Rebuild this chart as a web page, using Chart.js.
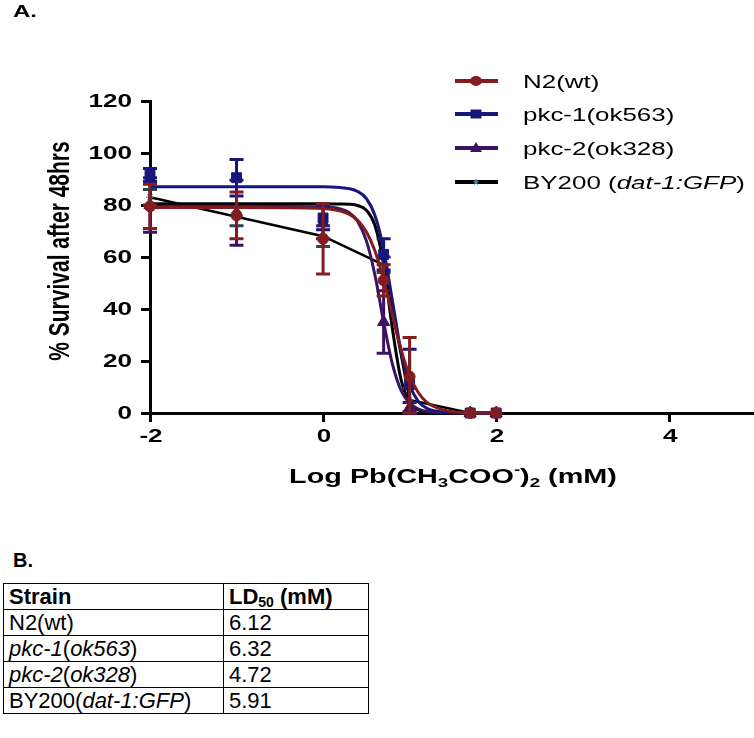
<!DOCTYPE html>
<html>
<head>
<meta charset="utf-8">
<script src="https://cdn.jsdelivr.net/npm/chart.js@4.4.1/dist/chart.umd.min.js"></script>
<style>
html,body{margin:0;padding:0;background:#fff;width:754px;height:738px;overflow:hidden;position:relative;font-family:"Liberation Sans",Arial,sans-serif;color:#000;}
#c{position:absolute;left:0;top:0;width:754px;height:500px;}
#lblB{position:absolute;left:13px;top:550px;font-weight:bold;font-size:20px;line-height:20px;}
#tbl{position:absolute;left:3px;top:583px;border-collapse:collapse;font-size:22px;}
#tbl td{border:1px solid #000;padding:0 0 0 5px;height:25px;line-height:22px;vertical-align:middle;white-space:nowrap;font-size:22px;}
#tbl th{border:1px solid #000;padding:0 0 0 5px;height:25px;line-height:22px;text-align:left;font-weight:bold;font-size:22px;}
#tbl sub{font-size:14px;vertical-align:-3px;line-height:0;}
</style>
</head>
<body>
<canvas id="c" width="754" height="500"></canvas>
<div id="lblB">B.</div>
<table id="tbl"></table>
<script>
// ---------- data ----------
const logDose   = [-2, -1, 0, 0.7, 1, 1.7, 2];
const n2Mean    = [79.5, 76, 67, 51, 14, 0, 0];
const n2Err     = [8.5, 9, 13.5, 6, 15, 0, 0];
const pkc1Mean  = [91.5, 90.5, 75, 61, 11, 0, 0];
const pkc1Err   = [2.5, 7, 4.5, 6, 13.5, 0, 0];
const pkc2Mean  = [80, 77, 73, 35, 2, 0, 0];
const pkc2Err   = [10.5, 12.5, 6, 12, 2, 0, 0];
const by200Mean = [83, 75.5, 68, 57, 5, 0, 0];
const by200Err  = [3, 3.5, 4, 3, 4.5, 0, 0];

// fitted curves
const fitX     = [-2, -1, 0, 0.2, 0.3, 0.4, 0.5, 0.6, 0.7, 0.8, 0.9, 1.0, 1.1, 1.2, 1.4, 1.7, 2.0];
const n2Fit    = [79, 79, 78.7, 77.7, 76.5, 74.1, 69.7, 62.3, 51.2, 37.7, 24.6, 14.4, 7.9, 4.1, 1.1, 0.1, 0];
const pkc1Fit  = [87, 87, 87, 86.7, 86.3, 85.2, 82.5, 76, 63, 43.5, 24, 11, 4.5, 1.8, 0.3, 0, 0];
const pkc2Fit  = [79.5, 79.5, 79.3, 78.5, 77.1, 73.7, 66.3, 53, 35, 19, 8.8, 3.8, 1.6, 0.6, 0.1, 0, 0];
const by200Fit = [80.5, 80.5, 80.5, 80.4, 80.3, 79.8, 78, 72.1, 57, 32.7, 13, 4.1, 1.2, 0.35, 0, 0, 0];

const yTicks = [0, 20, 40, 60, 80, 100, 120];
const xTicks = [-2, 0, 2, 4];

const seriesNames = ['N2(wt)', 'pkc-1(ok563)', 'pkc-2(ok328)', 'BY200 (dat-1:GFP)'];
const tableStrains = ['N2(wt)', '<i>pkc-1</i>(<i>ok563</i>)', '<i>pkc-2</i>(<i>ok328</i>)', 'BY200(<i>dat-1:GFP</i>)'];
const tableLD50 = ['6.12', '6.32', '4.72', '5.91'];

const yTitle = '% Survival after 48hrs';
const panelA = 'A.';

// ---------- table ----------
(function(){
  const t = document.getElementById('tbl');
  let h = '<tr><th style="width:214px">Strain</th><th style="width:139px">LD<sub>50</sub> (mM)</th></tr>';
  tableStrains.forEach((s,i)=>{ h += '<tr><td>'+s+'</td><td>'+tableLD50[i]+'</td></tr>'; });
  t.innerHTML = h;
})();

// ---------- colors ----------
const RED = '#821c1e', NAVY = '#17167c', PURPLE = '#3a1462', BLACK = '#000000', STEEL = '#4f7f9c', SLATE = '#2c4652';
const FONT = '"Liberation Sans", Arial, sans-serif';
const S = 1.45;
const AREA_LEFT = 150, AREA_RIGHT = 754, AREA_BOTTOM = 413;

const pts = (xs, ys) => xs.map((x,i)=>({x:x, y:ys[i]}));

function drawStretched(ctx, text, x, y, font, s, align, baseline){
  ctx.save(); ctx.font = font; ctx.textAlign = align; ctx.textBaseline = baseline;
  ctx.translate(x, y); ctx.scale(s, 1); ctx.fillText(text, 0, 0); ctx.restore();
}
function drawRuns(ctx, runs, x, y, s, align){
  ctx.save(); ctx.textBaseline = 'alphabetic'; ctx.textAlign = 'left';
  let w = 0;
  runs.forEach(r=>{ ctx.font = r.font; r.w = ctx.measureText(r.t).width; w += r.w; });
  ctx.translate(x, y); ctx.scale(s, 1);
  let cx = align === 'center' ? -w/2 : 0;
  runs.forEach(r=>{ ctx.font = r.font; ctx.fillText(r.t, cx, r.dy || 0); cx += r.w; });
  ctx.restore();
}

// force the plot area to span the full width on the right
const fixArea = {
  id: 'fixArea',
  afterLayout(chart){
    const xs = chart.scales.x;
    if (Math.abs(xs.right - AREA_RIGHT) > 0.5) {
      chart.chartArea.right = AREA_RIGHT;
      chart.chartArea.width = AREA_RIGHT - chart.chartArea.left;
      xs.right = AREA_RIGHT;
      xs.width = AREA_RIGHT - xs.left;
      xs.configure();
    }
  }
};

const errorBars = {
  id: 'errorBars',
  beforeDatasetDraw(chart, args){
    const ds = chart.data.datasets[args.index];
    if (!ds.errMean) return;
    const ctx = chart.ctx, xs = chart.scales.x, ys = chart.scales.y;
    ctx.save();
    ctx.strokeStyle = ds.errColor; ctx.lineWidth = 3;
    ds.errMean.forEach((m,i)=>{
      const e = ds.errVal[i];
      if (!e) return;
      const px = xs.getPixelForValue(logDose[i]);
      const top = ys.getPixelForValue(m + e);
      const bot = ys.getPixelForValue(Math.max(0, m - e));
      ctx.beginPath();
      ctx.moveTo(px, top); ctx.lineTo(px, bot);
      ctx.moveTo(px-7, top); ctx.lineTo(px+7, top);
      ctx.moveTo(px-7, bot); ctx.lineTo(px+7, bot);
      ctx.stroke();
    });
    ctx.restore();
  }
};

function drawMarker(ctx, style, x, y, color){
  ctx.save(); ctx.fillStyle = color; ctx.strokeStyle = color;
  if (style === 'circle'){ ctx.beginPath(); ctx.ellipse(x, y, 6, 5, 0, 0, Math.PI*2); ctx.fill(); }
  else if (style === 'rect'){ ctx.fillRect(x-5.5, y-4.5, 11, 9); }
  else if (style === 'triangle'){ ctx.beginPath(); ctx.moveTo(x, y-6); ctx.lineTo(x+6, y+4); ctx.lineTo(x-6, y+4); ctx.closePath(); ctx.fill(); }
  else if (style === 'star'){
    ctx.beginPath();
    for (let k=0;k<10;k++){ const r = k%2?1.5:3.6; const a = -Math.PI/2 + k*Math.PI/5; ctx.lineTo(x+r*Math.cos(a), y+r*Math.sin(a)); }
    ctx.closePath(); ctx.fill();
  }
  ctx.restore();
}

const texts = {
  id: 'texts',
  afterDraw(chart){
    const ctx = chart.ctx, xs = chart.scales.x, ys = chart.scales.y;
    ctx.save();
    ctx.fillStyle = '#000';
    drawStretched(ctx, panelA, 13, 17, 'bold 16px '+FONT, 1.5, 'left', 'alphabetic');
    const tickFont = 'bold 18px '+FONT;
    yTicks.forEach(v=> drawStretched(ctx, String(v), 132, ys.getPixelForValue(v)+1, tickFont, S, 'right', 'middle'));
    xTicks.forEach(v=> drawStretched(ctx, String(v), xs.getPixelForValue(v)+1, 437, tickFont, S, 'center', 'middle'));
    // y title
    ctx.save();
    ctx.translate(61, (ys.top + ys.bottom)/2 - 6);
    ctx.rotate(-Math.PI/2); ctx.scale(1, 1.4);
    ctx.font = 'bold 21px '+FONT; ctx.textAlign = 'center'; ctx.textBaseline = 'middle';
    ctx.fillText(yTitle, 0, 0);
    ctx.restore();
    // x title
    const B = 'bold 20px '+FONT, Bs = 'bold 13px '+FONT;
    drawRuns(ctx, [
      {t:'Log Pb(CH', font:B}, {t:'3', font:Bs, dy:4}, {t:'COO', font:B},
      {t:'-', font:Bs, dy:-9}, {t:')', font:B}, {t:'2', font:Bs, dy:4}, {t:' (mM)', font:B}
    ], 453, 483, 1.44, 'center');
    // legend
    const legY = [81, 114, 148, 182];
    const legColors = [RED, NAVY, PURPLE, BLACK];
    const legMarks = ['circle', 'rect', 'triangle', 'star'];
    const legMarkCol = [RED, NAVY, PURPLE, STEEL];
    const LF = '18px '+FONT, LFi = 'italic 18px '+FONT;
    legY.forEach((y,i)=>{
      ctx.save(); ctx.strokeStyle = legColors[i]; ctx.lineWidth = 4;
      ctx.beginPath(); ctx.moveTo(455, y); ctx.lineTo(498, y); ctx.stroke(); ctx.restore();
      drawMarker(ctx, legMarks[i], 476, y, legMarkCol[i]);
      let runs;
      if (i === 3) {
        const m = seriesNames[3].match(/^(.*\()(.*)(\))$/);
        runs = [{t:m[1], font:LF}, {t:m[2], font:LFi}, {t:m[3], font:LF}];
      } else runs = [{t:seriesNames[i], font:LF}];
      ctx.fillStyle = '#000';
      drawRuns(ctx, runs, 523, y + 7, 1.44, 'left');
    });
    ctx.restore();
  }
};

const H = 500;
function ptsDs(label, mean, err, color, errColor, style, radius, order, extra){
  return Object.assign({
    label: label, data: pts(logDose, mean), showLine: false,
    pointStyle: style, pointRadius: radius, pointBackgroundColor: color, pointBorderColor: color, pointBorderWidth: 1,
    errMean: mean, errVal: err, errColor: errColor, order: order, clip: false
  }, extra || {});
}
function fitDs(label, ys, color, order){
  return { label: label, data: pts(fitX, ys), showLine: true, borderColor: color, borderWidth: 3,
    pointRadius: 0, cubicInterpolationMode: 'monotone', fill: false, order: order, clip: false };
}

new Chart(document.getElementById('c'), {
  type: 'scatter',
  data: { datasets: [
    ptsDs(seriesNames[0], n2Mean, n2Err, RED, RED, 'circle', 5.5, 1),
    fitDs(seriesNames[0]+' fit', n2Fit, RED, 2),
    ptsDs(seriesNames[1], pkc1Mean, pkc1Err, NAVY, NAVY, 'rect', 7, 3),
    fitDs(seriesNames[1]+' fit', pkc1Fit, NAVY, 4),
    ptsDs(seriesNames[2], pkc2Mean, pkc2Err, PURPLE, PURPLE, 'triangle', 7, 5),
    fitDs(seriesNames[2]+' fit', pkc2Fit, PURPLE, 6),
    ptsDs(seriesNames[3], by200Mean, by200Err, STEEL, SLATE, 'star', 4, 7,
      { showLine: true, borderColor: BLACK, borderWidth: 2.5, tension: 0 }),
    fitDs(seriesNames[3]+' fit', by200Fit, BLACK, 8)
  ]},
  options: {
    responsive: false, animation: false, devicePixelRatio: 1,
    layout: { padding: { top: 101, left: 0, right: 0, bottom: 0 } },
    plugins: { legend: { display: false }, tooltip: { enabled: false }, title: { display: false } },
    scales: {
      x: {
        type: 'linear', min: -2, max: 4.98,
        afterBuildTicks: s => { s.ticks = xTicks.map(v=>({value:v})); },
        afterFit: s => { s.height = H - AREA_BOTTOM; s.paddingLeft = 0; s.paddingRight = 0; },
        ticks: { display: false },
        grid: { drawOnChartArea: false, drawTicks: true, tickLength: 9, tickWidth: 3, color: '#000' },
        border: { display: true, width: 3, color: '#000' }
      },
      y: {
        type: 'linear', min: 0, max: 120,
        afterBuildTicks: s => { s.ticks = yTicks.map(v=>({value:v})); },
        afterFit: s => { s.width = AREA_LEFT; s.paddingTop = 0; s.paddingBottom = 0; },
        ticks: { display: false },
        grid: { drawOnChartArea: false, drawTicks: true, tickLength: 9, tickWidth: 3, color: '#000' },
        border: { display: true, width: 3, color: '#000' }
      }
    }
  },
  plugins: [fixArea, errorBars, texts]
});
</script>
</body>
</html>
